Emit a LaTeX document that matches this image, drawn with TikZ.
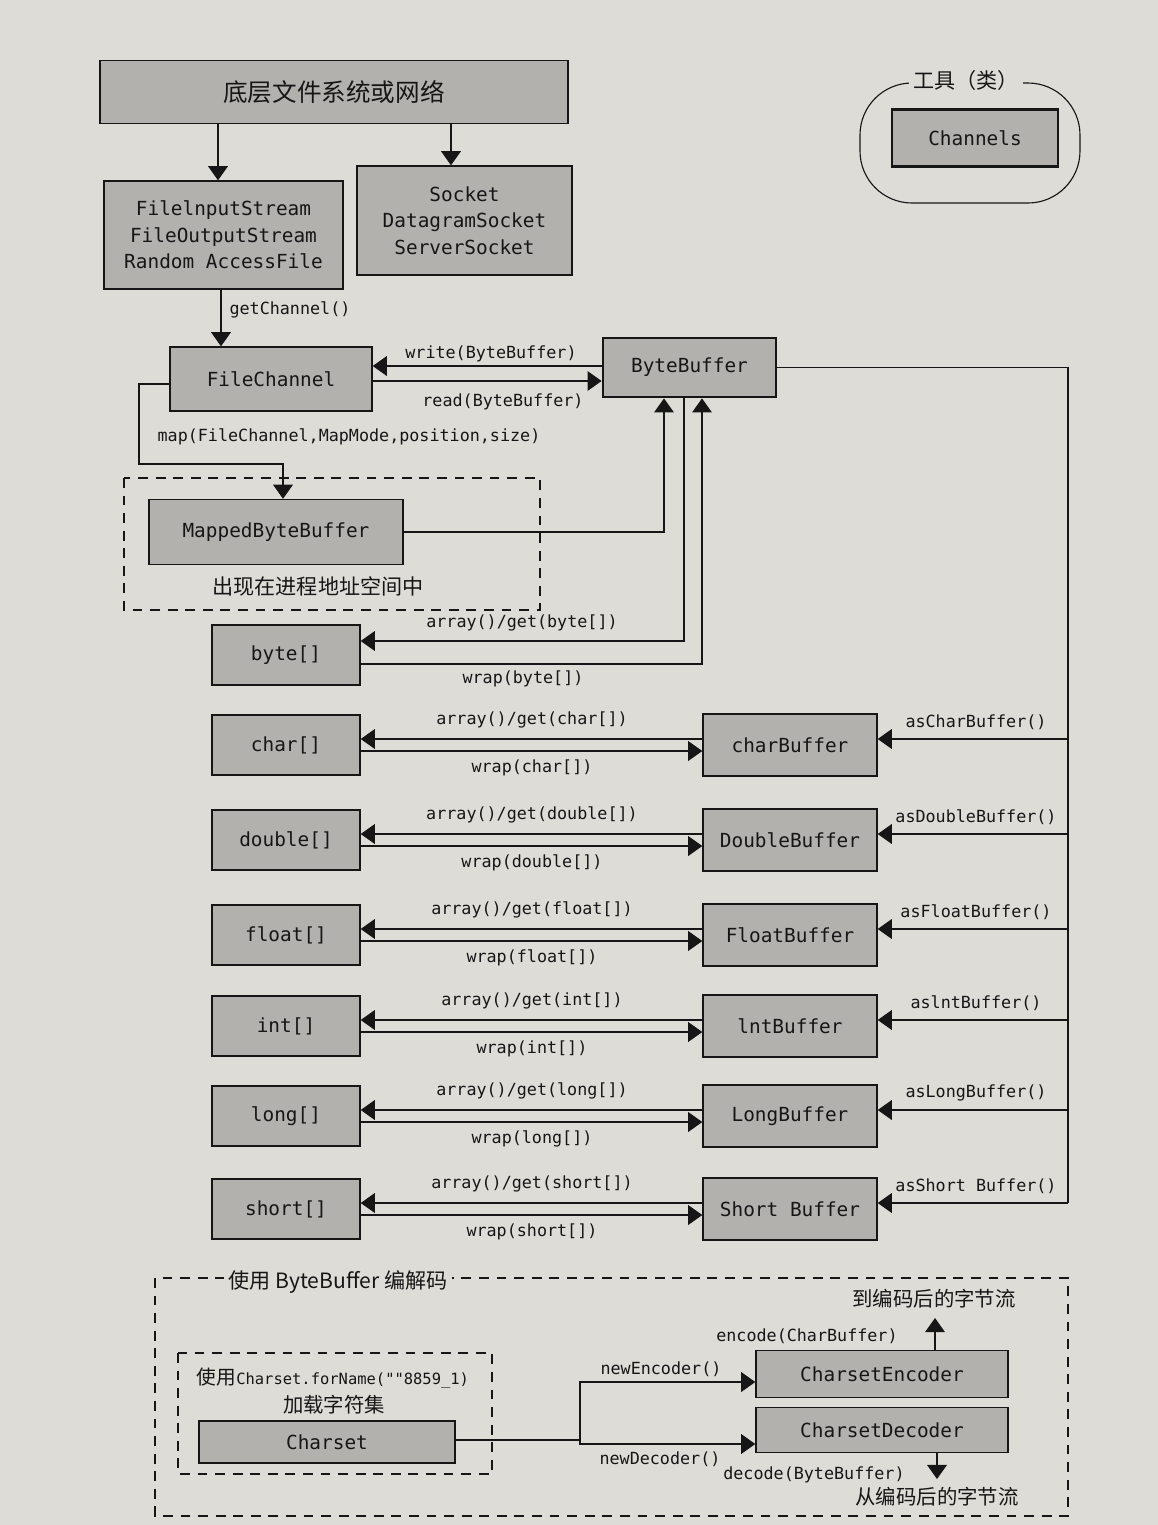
\documentclass[tikz,border=0pt]{standalone}
\usepackage{fontspec}
\setmonofont{DejaVu Sans Mono}
\newfontfamily\dgcjk{Noto Sans CJK SC}
\usetikzlibrary{arrows.meta}
\definecolor{paper}{RGB}{221,220,215}
\definecolor{boxfill}{RGB}{178,177,174}
\definecolor{ink}{RGB}{22,22,22}
\newcommand\dgboxfont{\ttfamily\fontsize{13.8}{18.8}\selectfont}
\newcommand\dglblfont{\ttfamily\fontsize{11.9}{14}\selectfont}
\newcommand\dgcjkfont[1]{\dgcjk\fontsize{#1}{#1}\selectfont}
\tikzset{
  box/.style={draw=ink, fill=boxfill, line width=1pt, inner sep=0pt, font=\dgboxfont, text=ink},
  thickbox/.style={box, line width=2pt},
  conn/.style={draw=ink, line width=0.8pt},
  arr/.style={conn, -{Triangle[length=10pt,width=14pt]}},
  lbl/.style={font=\dglblfont, inner sep=1pt, text=ink},
  cjklbl/.style={font=\dgcjkfont{15}, inner sep=1pt, text=ink},
  dashbox/.style={draw=ink, line width=0.9pt, dash pattern=on 7pt off 5.5pt},
  wh/.style 2 args={minimum width=#1*0.25mm, minimum height=#2*0.25mm},
}
\begin{document}
\begin{tikzpicture}[x=0.25mm,y=-0.25mm]
\fill[paper] (0,0) rectangle (1158,1525);
\useasboundingbox (0,0) rectangle (1158,1525);

% top part
\node[box,wh={468}{63}] (top) at (334,92) {\dgcjkfont{17.5}底层文件系统或网络};
\node[box,wh={239}{108},align=center] (fis) at (223.5,235) {FilelnputStream\\FileOutputStream\\Random AccessFile};
\node[box,wh={215}{109},align=center] (sock) at (464.5,220.5) {Socket\\DatagramSocket\\ServerSocket};
\draw[arr] (top.south -| 218,0) -- (fis.north -| 218,0);
\draw[arr] (top.south -| 451,0) -- (sock.north -| 451,0);

\node[box,wh={202}{64}] (fc) at (271,379) {FileChannel};
\node[thickbox,wh={173}{59}] (bb) at (689.5,367.5) {ByteBuffer};
\draw[arr] (fis.south -| 221,0) -- (fc.north -| 221,0);
\node[lbl] at (290,310) {getChannel()};

\draw[arr] (bb.west |- 0,366) -- (fc.east |- 0,366);
\node[lbl] at (491,354) {write(ByteBuffer)};
\draw[arr] (fc.east |- 0,381) -- (bb.west |- 0,381);
\node[lbl] at (503,402) {read(ByteBuffer)};

% tool group
\draw[conn, rounded corners=13mm] (860,83) rectangle (1080,203);
\node[fill=paper, inner sep=3pt, font=\dgcjkfont{15}, text=ink] at (966,80) {工具（类）};
\node[thickbox,wh={166}{57}] (ch) at (975,138) {Channels};

% mapped
\draw[dashbox] (124,478) rectangle (540,610);
\node[box,wh={254}{65}] (mbb) at (276,532) {MappedByteBuffer};
\draw[arr] (fc.west |- 0,384) -- (139,384) -- (139,464) -- (283,464) -- (mbb.north -| 283,0);
\node[lbl] at (349,437) {map(FileChannel,MapMode,position,size)};
\node[cjklbl] at (318,586) {出现在进程地址空间中};
\draw[arr] (mbb.east) -| (bb.south -| 664,0);

% byte[]
\node[box,wh={148}{60}] (byte) at (286,655) {byte[]};
\draw[arr] (bb.south -| 684,0) |- (byte.east |- 0,641);
\draw[arr] (byte.east |- 0,664) -| (bb.south -| 702,0);
\node[lbl] at (522,623) {array()/get(byte[])};
\node[lbl] at (523,679) {wrap(byte[])};

% rail
\draw[conn] (bb.east) -- (1068,367.5) -- (1068,1203);

% rows
\foreach \t/\bn/\an/\yc [count=\i] in {char/charBuffer/asCharBuffer()/745,
    double/DoubleBuffer/asDoubleBuffer()/840,
    float/FloatBuffer/asFloatBuffer()/935,
    int/lntBuffer/aslntBuffer()/1026,
    long/LongBuffer/asLongBuffer()/1116,
    short/Short Buffer/asShort Buffer()/1209}{
  \pgfmathsetmacro\yu{\yc-6}
  \pgfmathsetmacro\yl{\yc+6}
  \node[box,wh={148}{60}] (a\i) at (286,\yc) {\t[]};
  \node[box,wh={174}{62}] (b\i) at (790,\yc) {\bn};
  \draw[arr] (b\i.west |- 0,\yu) -- (a\i.east |- 0,\yu);
  \draw[arr] (a\i.east |- 0,\yl) -- (b\i.west |- 0,\yl);
  \node[lbl] at (532,\yc-25) {array()/get(\t[])};
  \node[lbl] at (532,\yc+23) {wrap(\t[])};
  \coordinate (r\i) at (1068,\yu);
  \draw[arr] (r\i) -- (b\i.east |- r\i);
  \node[lbl] at (976,\yc-23) {\an};
}

% bottom codec region
\draw[dashbox] (155,1278) rectangle (1068,1516);
\node[fill=paper, inner sep=3pt, font=\dgcjkfont{15}, text=ink] at (338,1282) {使用 ByteBuffer 编解码};
\draw[dashbox] (178,1353) rectangle (492,1474);
\node[inner sep=1pt, text=ink] at (333,1378) {\dgcjkfont{14}使用\ttfamily\fontsize{11}{13}\selectfont Charset.forName(""8859\_1)};
\node[inner sep=1pt, text=ink, font=\dgcjkfont{14.5}] at (334,1405) {加载字符集};
\node[box,wh={256}{42}] (cs) at (327,1442) {Charset};
\node[box,wh={252}{47}] (enc) at (882,1374) {CharsetEncoder};
\node[box,wh={252}{45}] (dec) at (882,1430) {CharsetDecoder};
\coordinate (jn) at (580,1440);
\draw[conn] (cs.east |- jn) -- (jn);
\draw[arr] (jn) |- (enc.west |- 0,1382);
\draw[arr] (jn) |- (dec.west |- 0,1444);
\node[lbl] at (661,1369) {newEncoder()};
\node[lbl] at (660,1459) {newDecoder()};
\coordinate (encout) at (935,1318);
\draw[arr] (enc.north -| encout) -- (encout);
\node[lbl] at (807,1336) {encode(CharBuffer)};
\node[cjklbl, font=\dgcjkfont{14.5}] at (934,1299) {到编码后的字节流};
\coordinate (decout) at (937,1479);
\draw[arr] (dec.south -| decout) -- (decout);
\node[lbl] at (814,1475) {decode(ByteBuffer)};
\node[cjklbl, font=\dgcjkfont{14.5}] at (937,1497) {从编码后的字节流};
\end{tikzpicture}
\end{document}
